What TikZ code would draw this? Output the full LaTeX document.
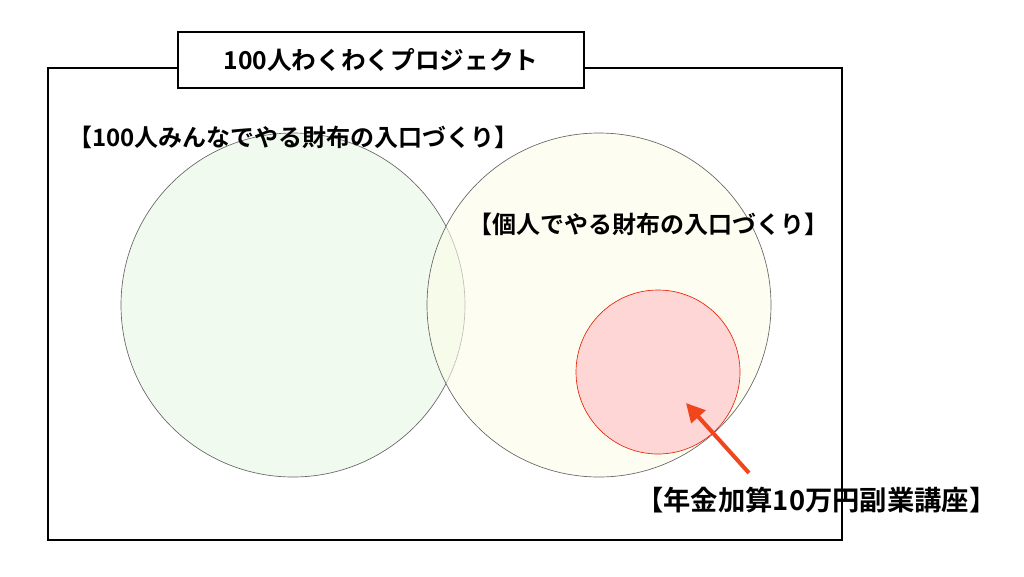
\documentclass[tikz,border=0pt]{standalone}
\usepackage{fontspec}
\usetikzlibrary{arrows.meta}
\newfontfamily\cjk{Noto Sans CJK JP}[BoldFont={Noto Sans CJK JP Bold}]
\definecolor{arr}{RGB}{240,70,30}
\definecolor{pinkd}{RGB}{230,40,10}
\definecolor{pinkf}{RGB}{255,214,214}
\definecolor{grn}{RGB}{232,247,228}
\definecolor{ylw}{RGB}{252,252,232}
\begin{document}
\begin{tikzpicture}[x=0.75pt,y=-0.75pt,
  lbl/.style={font=\cjk\bfseries\fontsize{18}{20}\selectfont,anchor=west,inner sep=0pt},
  circ/.style={draw=gray!80!black,line width=0.5pt,fill opacity=0.6}]
\useasboundingbox (0,0) rectangle (1024,576);
\draw[line width=1pt] (48,68) rectangle (842,540);
\node[circ,circle,fill=grn,minimum size=344*0.75pt] (L) at (293,305) {};
\node[circ,circle,fill=ylw,minimum size=344*0.75pt] (R) at (599,305) {};
\node[circle,draw=pinkd,fill=pinkf,line width=0.5pt,minimum size=164*0.75pt] (P) at (658,372) {};
\node[draw,line width=1pt,fill=white,minimum width=406*0.75pt,minimum height=56*0.75pt,font=\cjk\bfseries\fontsize{18.5}{20}\selectfont] (T) at (381,60) {100人わくわくプロジェクト};
\node[lbl] (t1) at (68,137) {【100人みんなでやる財布の入口づくり】};
\node[lbl] (t2) at (468,224) {【個人でやる財布の入口づくり】};
\node[lbl,font=\cjk\bfseries\fontsize{20.5}{22}\selectfont] (t3) at (636,500) {【年金加算10万円副業講座】};
\coordinate (a) at (749,473);
\coordinate (b) at (686,403);
\draw[arr,line width=3pt,-{Triangle[length=14pt,width=14pt]}] (a) -- (b);
\end{tikzpicture}
\end{document}
